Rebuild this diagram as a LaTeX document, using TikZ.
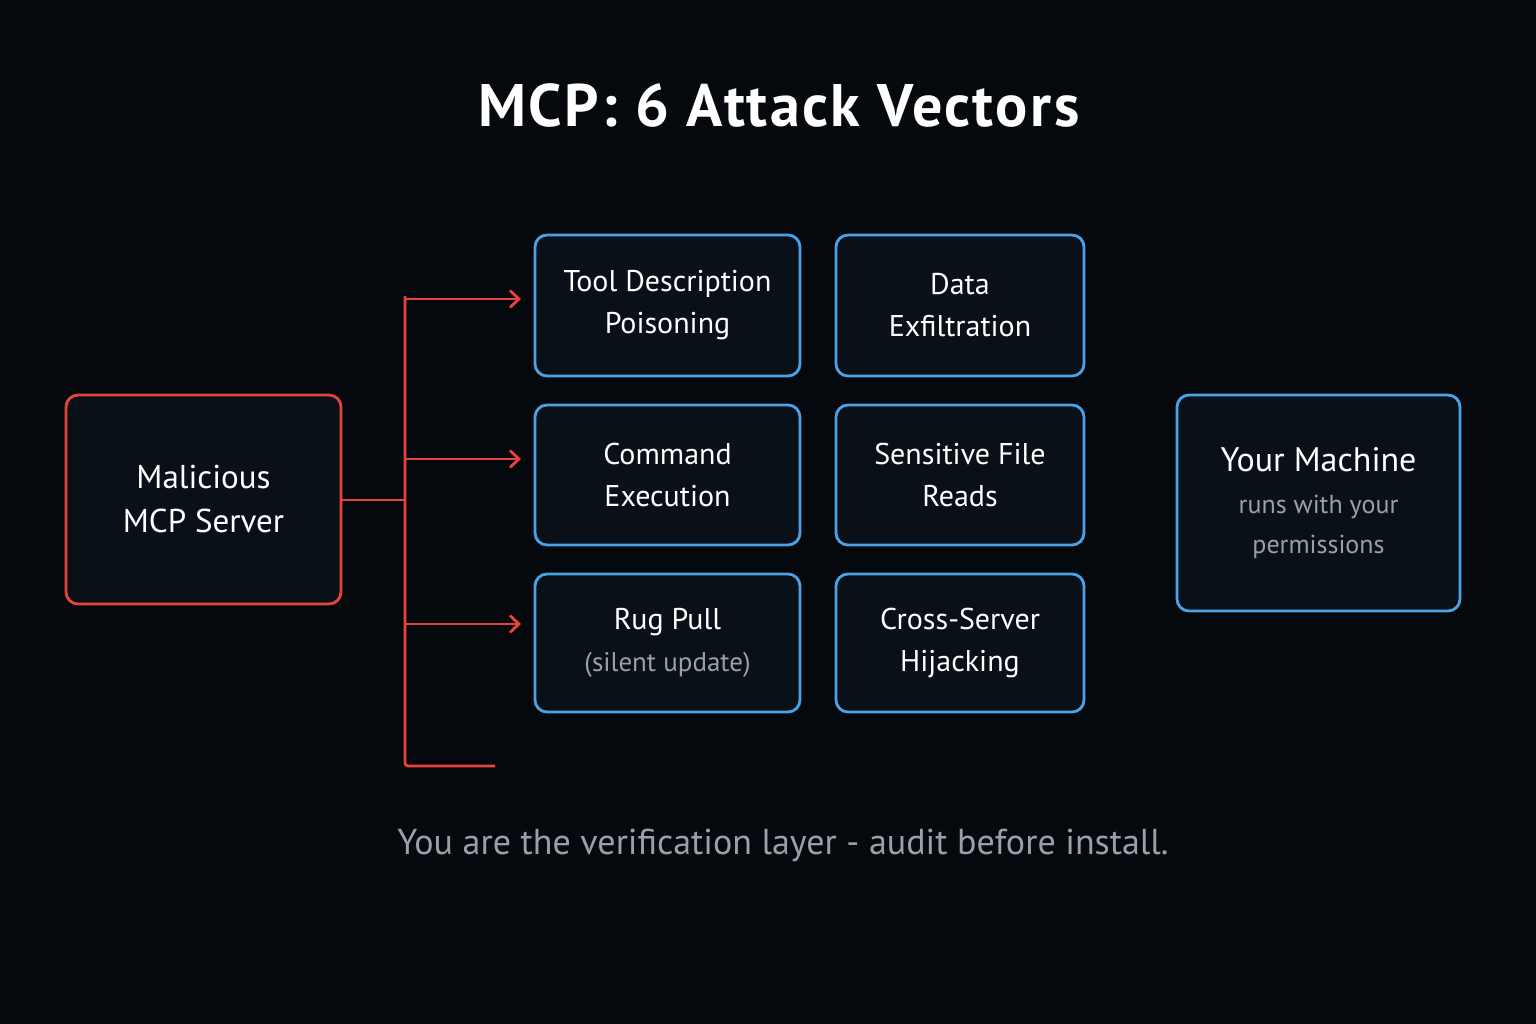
\documentclass[tikz,border=0pt]{standalone}
\usepackage{fontspec}
\setmainfont{PT Sans}
\usetikzlibrary{arrows.meta}
\definecolor{bg}{HTML}{05080D}
\definecolor{boxbg}{HTML}{0A1018}
\definecolor{blu}{HTML}{4AA3E8}
\definecolor{rd}{HTML}{E8433A}
\definecolor{gry}{HTML}{9AA0A8}
\tikzset{
 vbox/.style={draw=blu,line width=2.8pt,fill=boxbg,rounded corners=12pt,text=white,align=center,font=\fontsize{30}{42}\selectfont},
 rbox/.style={draw=rd,line width=2.8pt,fill=boxbg,rounded corners=12pt,text=white,align=center,font=\fontsize{33}{44}\selectfont},
 rl/.style={draw=rd,line width=2.8pt},
 ra/.style={rl,-{Straight Barb[length=9pt,width=17pt,line width=2.8pt]}},
 sub/.style={text=gry}
}
\begin{document}
\begin{tikzpicture}[x=1pt,y=-1pt]
\fill[bg] (0,0) rectangle (1536,1024);
\useasboundingbox (0,0) rectangle (1536,1024);
\node[text=white,font=\bfseries\fontsize{60}{64}\selectfont\addfontfeature{LetterSpace=4}] (title) at (779,106) {MCP: 6 Attack Vectors};
\node[rbox,minimum width=275pt,minimum height=209pt] (mal) at (203.5,499.5) {Malicious\\MCP Server};
\node[vbox,minimum width=265pt,minimum height=141pt] (tdp) at (667.5,305.5) {Tool Description\\Poisoning};
\node[vbox,minimum width=248pt,minimum height=141pt] (dex) at (960,305.5) {Data\\Exfiltration};
\node[vbox,minimum width=265pt,minimum height=140pt] (cmd) at (667.5,475) {Command\\Execution};
\node[vbox,minimum width=248pt,minimum height=140pt] (sfr) at (960,475) {Sensitive File\\Reads};
\node[vbox,minimum width=265pt,minimum height=138pt] (rug) at (667.5,643) {Rug Pull\\{\color{gry}\fontsize{27}{40}\selectfont(silent update)}};
\node[vbox,minimum width=248pt,minimum height=138pt] (csh) at (960,643) {Cross-Server\\Hijacking};
\node[vbox,minimum width=283pt,minimum height=216pt,font=\fontsize{34}{40}\selectfont] (ym) at (1318.5,503) {Your Machine\\[2pt]{\color{gry}\fontsize{26}{38}\selectfont runs with your}\\{\color{gry}\fontsize{26}{38}\selectfont permissions}};
\coordinate (j) at (405,500);
\coordinate (top) at (405,299);
\coordinate (bot) at (405,766);
\coordinate (botend) at (495,766);
\coordinate (a1) at (521,299);
\coordinate (a2) at (521,459);
\coordinate (a3) at (521,624);
\draw[rl] (mal.east |- j) -- (j);
\draw[rl,rounded corners=3pt] (a1 -| top) -- (top) -- (bot) -- (botend);
\draw[ra] (top) -- (a1);
\draw[ra] (j |- a2) -- (a2);
\draw[ra] (j |- a3) -- (a3);
\node[text=gry,font=\fontsize{36}{40}\selectfont] (foot) at (783,845) {You are the verification layer - audit before install.};
\end{tikzpicture}
\end{document}
